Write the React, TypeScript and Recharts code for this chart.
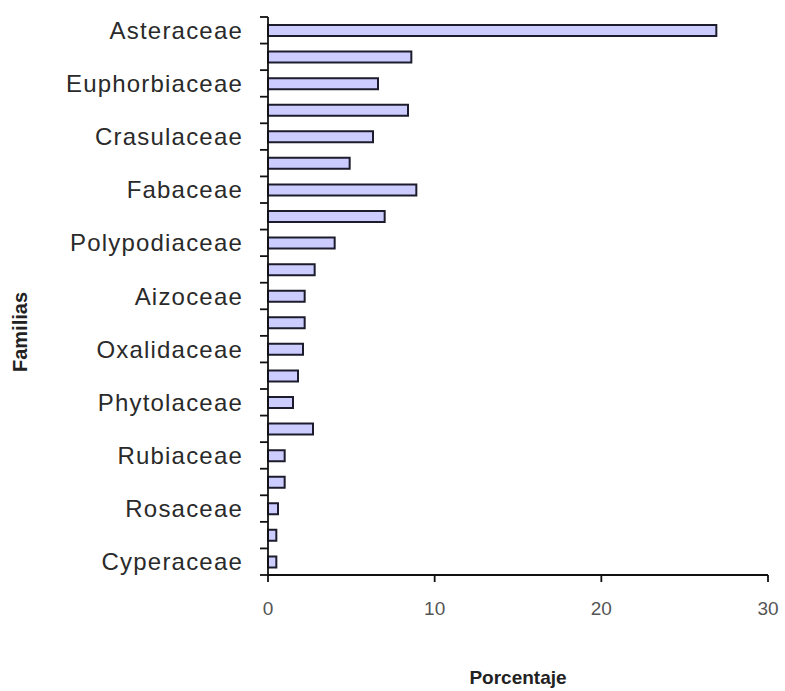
import React from "react";
import { BarChart, Bar, XAxis, YAxis, Label } from "recharts";

// Familias (only every other one is labelled in the original chart)
const familias: string[] = [
  "Asteraceae", "", "Euphorbiaceae", "", "Crasulaceae", "", "Fabaceae", "",
  "Polypodiaceae", "", "Aizoceae", "", "Oxalidaceae", "", "Phytolaceae", "",
  "Rubiaceae", "", "Rosaceae", "", "Cyperaceae",
];

// Porcentaje per familia
const porcentajes: number[] = [
  26.9, 8.6, 6.6, 8.4, 6.3, 4.9, 8.9, 7.0, 4.0, 2.8, 2.2,
  2.2, 2.1, 1.8, 1.5, 2.7, 1.0, 1.0, 0.6, 0.5, 0.5,
];

const xTicks: number[] = [0, 10, 20, 30];

const data = familias.map((name, i) => ({ key: `c${i}`, name, value: porcentajes[i] }));

const CHART_W = 785;
const CHART_H = 691;
const MARGIN = { top: 17, right: 17, left: 18, bottom: 76 };
const X_AXIS_H = 40;
const Y_AXIS_W = 250;
const Y_TICK_SIZE = 8;
const Y_TICK_MARGIN = 17;
const PLOT_H = CHART_H - MARGIN.top - MARGIN.bottom - X_AXIS_H;
const BAND = PLOT_H / familias.length;

const FONT = "'Liberation Sans', Arial, sans-serif";

function YTick(props: any) {
  const { x, y, index } = props;
  const axisX = x + Y_TICK_SIZE + Y_TICK_MARGIN;
  const half = BAND / 2;
  const label = familias[index];
  return (
    <g>
      <line x1={axisX - Y_TICK_SIZE} x2={axisX} y1={y - half} y2={y - half} stroke="#111" strokeWidth={1.8} />
      {index === familias.length - 1 && (
        <line x1={axisX - Y_TICK_SIZE} x2={axisX} y1={y + half} y2={y + half} stroke="#111" strokeWidth={1.8} />
      )}
      {label && (
        <text
          x={x}
          y={y}
          textAnchor="end"
          dominantBaseline="central"
          fontSize={24}
          letterSpacing={1.2}
          fill="#2a2a2a"
          fontFamily={FONT}
        >
          {label}
        </text>
      )}
    </g>
  );
}

export default function App() {
  return (
    <div style={{ position: "absolute", left: 0, top: 0, width: CHART_W, height: CHART_H }}>
      <BarChart
        width={CHART_W}
        height={CHART_H}
        data={data}
        layout="vertical"
        margin={MARGIN}
        barCategoryGap={0}
      >
        <XAxis
          type="number"
          dataKey="value"
          domain={[0, 30]}
          ticks={xTicks}
          height={X_AXIS_H}
          axisLine={{ stroke: "#111", strokeWidth: 1.8 }}
          tickLine={{ stroke: "#111", strokeWidth: 1.8 }}
          tickSize={7}
          tickMargin={20}
          tick={{ fontSize: 19, fill: "#555", fontFamily: FONT }}
          interval={0}
        >
          <Label
            content={(p: any) => {
              const vb = p.viewBox;
              return (
                <text
                  x={vb.x + vb.width / 2}
                  y={vb.y + 109}
                  textAnchor="middle"
                  fontSize={19}
                  fontWeight="bold"
                  fill="#222"
                  fontFamily={FONT}
                >
                  Porcentaje
                </text>
              );
            }}
          />
        </XAxis>
        <YAxis
          type="category"
          dataKey="key"
          width={Y_AXIS_W}
          axisLine={{ stroke: "#111", strokeWidth: 1.8 }}
          tickLine={false}
          tickSize={Y_TICK_SIZE}
          tickMargin={Y_TICK_MARGIN}
          tick={<YTick />}
          interval={0}
        >
          <Label
            content={(p: any) => {
              const vb = p.viewBox;
              const cx = vb.x + 2;
              const cy = vb.y + vb.height / 2 + 36;
              return (
                <text
                  x={cx}
                  y={cy}
                  transform={`rotate(-90 ${cx} ${cy})`}
                  textAnchor="middle"
                  dominantBaseline="central"
                  fontSize={20}
                  fontWeight="bold"
                  fill="#222"
                  fontFamily={FONT}
                >
                  Familias
                </text>
              );
            }}
          />
        </YAxis>
        <Bar
          dataKey="value"
          fill="#ccccff"
          stroke="#1c1c2c"
          strokeWidth={2}
          barSize={11}
          isAnimationActive={false}
        />
      </BarChart>
    </div>
  );
}
